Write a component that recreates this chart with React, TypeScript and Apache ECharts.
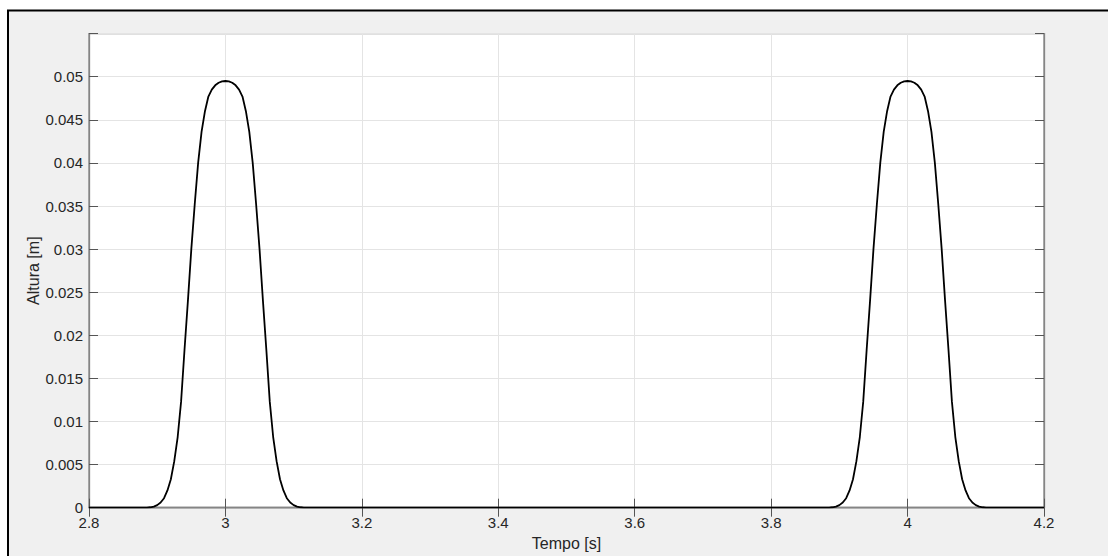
import React, { useEffect, useRef } from 'react';
import * as echarts from 'echarts';

// Values
const tempoInicio = [2.8];
const alturaInicio = [0];

const tempoPico1 = [2.88, 2.885, 2.89, 2.895, 2.9, 2.905, 2.91, 2.915, 2.92, 2.925, 2.93, 2.935, 2.94, 2.945, 2.95, 2.955, 2.96, 2.965, 2.97, 2.975, 2.98, 2.985, 2.99, 2.995, 3.0, 3.005, 3.01, 3.015, 3.02, 3.025, 3.03, 3.035, 3.04, 3.045, 3.05, 3.055, 3.06, 3.065, 3.07, 3.075, 3.08, 3.085, 3.09, 3.095, 3.1, 3.105, 3.11, 3.115, 3.12];
const alturaPico1 = [0, 0.00001, 0.00005, 0.00013, 0.0003, 0.0006, 0.0011, 0.002, 0.0033, 0.0054, 0.0082, 0.0123, 0.0183, 0.024, 0.03, 0.0352, 0.04, 0.0436, 0.046, 0.0477, 0.0485, 0.049, 0.0493, 0.04945, 0.0495, 0.04945, 0.0493, 0.049, 0.0485, 0.0477, 0.046, 0.0436, 0.04, 0.0352, 0.03, 0.024, 0.0183, 0.0123, 0.0082, 0.0054, 0.0033, 0.002, 0.0011, 0.0006, 0.0003, 0.00013, 0.00005, 0.00001, 0];

const tempoPico2 = [3.88, 3.885, 3.89, 3.895, 3.9, 3.905, 3.91, 3.915, 3.92, 3.925, 3.93, 3.935, 3.94, 3.945, 3.95, 3.955, 3.96, 3.965, 3.97, 3.975, 3.98, 3.985, 3.99, 3.995, 4.0, 4.005, 4.01, 4.015, 4.02, 4.025, 4.03, 4.035, 4.04, 4.045, 4.05, 4.055, 4.06, 4.065, 4.07, 4.075, 4.08, 4.085, 4.09, 4.095, 4.1, 4.105, 4.11, 4.115, 4.12];
const alturaPico2 = [0, 0.00001, 0.00005, 0.00013, 0.0003, 0.0006, 0.0011, 0.002, 0.0033, 0.0054, 0.0082, 0.0123, 0.0183, 0.024, 0.03, 0.0352, 0.04, 0.0436, 0.046, 0.0477, 0.0485, 0.049, 0.0493, 0.04945, 0.0495, 0.04945, 0.0493, 0.049, 0.0485, 0.0477, 0.046, 0.0436, 0.04, 0.0352, 0.03, 0.024, 0.0183, 0.0123, 0.0082, 0.0054, 0.0033, 0.002, 0.0011, 0.0006, 0.0003, 0.00013, 0.00005, 0.00001, 0];

const tempoFim = [4.2];
const alturaFim = [0];

const xMin = 2.8;
const xMax = 4.2;
const xStep = 0.2;
const yMin = 0;
const yMax = 0.055;
const yStep = 0.005;

const xTitle = 'Tempo [s]';
const yTitle = 'Altura [m]';

const FONT = '"Liberation Sans", Arial, Helvetica, sans-serif';
const TEXT = '#262626';
const AXIS = '#858585';
const TICK = '#555555';
const GRID = '#e4e4e4';

export default function App() {
  const ref = useRef<HTMLDivElement>(null);

  useEffect(() => {
    if (!ref.current) return;
    const chart = echarts.init(ref.current, undefined, { renderer: 'svg' });

    const tempo = [...tempoInicio, ...tempoPico1, ...tempoPico2, ...tempoFim];
    const altura = [...alturaInicio, ...alturaPico1, ...alturaPico2, ...alturaFim];
    const data = tempo.map((t, i) => [t, altura[i]]);

    const xFmt = (v: number) => String(parseFloat(v.toFixed(1)));
    const yFmt = (v: number) => (v > 0.0505 ? '' : String(parseFloat(v.toFixed(3))));

    chart.setOption({
      animation: false,
      graphic: [
        {
          type: 'rect',
          z: -100,
          silent: true,
          shape: { x: 8, y: 10.5, width: 1300, height: 800 },
          style: { fill: '#f0f0f0', stroke: '#000', lineWidth: 2 },
        },
      ],
      grid: {
        left: 89,
        right: 64,
        top: 33.6,
        bottom: 48.3,
        containLabel: false,
        outerBoundsMode: 'none',
        show: true,
        backgroundColor: '#ffffff',
        borderColor: AXIS,
        borderWidth: 1.3,
      },
      xAxis: [
        {
          type: 'value',
          min: xMin,
          max: xMax,
          interval: xStep,
          position: 'bottom',
          name: xTitle,
          nameLocation: 'middle',
          nameGap: 28,
          nameMoveOverlap: false,
          nameTextStyle: { fontFamily: FONT, fontSize: 16, color: TEXT },
          axisLine: { show: true, lineStyle: { color: AXIS, width: 1.3 } },
          axisTick: { show: true, inside: true, length: 9, lineStyle: { color: TICK, width: 1 } },
          axisLabel: { formatter: xFmt, fontFamily: FONT, fontSize: 15, color: TEXT, margin: 7 },
          splitLine: { show: true, lineStyle: { color: GRID, width: 1 } },
        },
        {
          type: 'value',
          min: xMin,
          max: xMax,
          interval: xStep,
          position: 'top',
          axisLine: { show: true, lineStyle: { color: AXIS, width: 1.3 } },
          axisTick: { show: true, inside: true, length: 9, lineStyle: { color: TICK, width: 1 } },
          axisLabel: { show: false },
          splitLine: { show: false },
        },
      ],
      yAxis: [
        {
          type: 'value',
          min: yMin,
          max: yMax,
          interval: yStep,
          position: 'left',
          name: yTitle,
          nameLocation: 'middle',
          nameGap: 48,
          nameMoveOverlap: false,
          nameTextStyle: { fontFamily: FONT, fontSize: 16, color: TEXT },
          axisLine: { show: true, lineStyle: { color: AXIS, width: 1.3 } },
          axisTick: { show: true, inside: true, length: 9, lineStyle: { color: TICK, width: 1 } },
          axisLabel: { formatter: yFmt, fontFamily: FONT, fontSize: 15, color: TEXT, margin: 6 },
          splitLine: { show: true, lineStyle: { color: GRID, width: 1 } },
        },
        {
          type: 'value',
          min: yMin,
          max: yMax,
          interval: yStep,
          position: 'right',
          axisLine: { show: true, lineStyle: { color: AXIS, width: 1.3 } },
          axisTick: { show: true, inside: true, length: 9, lineStyle: { color: TICK, width: 1 } },
          axisLabel: { show: false },
          splitLine: { show: false },
        },
      ],
      series: [
        {
          type: 'line',
          xAxisIndex: 0,
          yAxisIndex: 0,
          data,
          showSymbol: false,
          symbol: 'none',
          smooth: false,
          lineStyle: { color: '#000000', width: 1.8 },
          z: 5,
        },
      ],
    });

    return () => chart.dispose();
  }, []);

  return (
    <div
      ref={ref}
      style={{ position: 'fixed', left: 0, top: 0, width: 1108, height: 556, background: '#ffffff' }}
    />
  );
}
